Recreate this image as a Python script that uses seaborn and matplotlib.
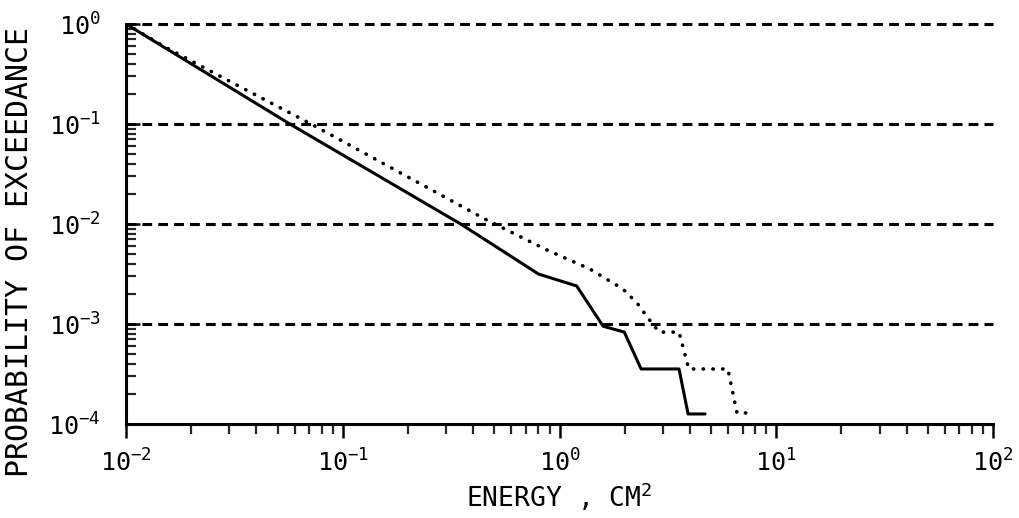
import numpy as np
import pandas as pd
import matplotlib
matplotlib.use("Agg")
import matplotlib.pyplot as plt
from matplotlib.ticker import FixedLocator, FuncFormatter, NullFormatter
import seaborn as sns

# Data
solid_x = [0.01, 0.057, 0.35, 0.80, 1.20, 1.59, 1.99, 2.38, 3.56, 3.92, 4.69]
solid_y = [1.0, 0.1, 0.01, 3.16e-3, 2.4e-3, 9.5e-4, 8.3e-4, 3.55e-4, 3.55e-4, 1.26e-4, 1.26e-4]

dot_x = [0.01, 0.01545, 0.0272, 0.0714, 0.453, 0.875, 1.38, 1.96, 2.28, 2.56, 2.88, 3.56, 3.95, 5.98, 6.59, 7.24]
dot_y = [1.0, 0.575, 0.30, 0.1, 0.0112, 5.5e-3, 3.55e-3, 2.24e-3, 1.62e-3, 1.15e-3, 8.3e-4, 8.3e-4, 3.55e-4, 3.55e-4, 1.29e-4, 1.29e-4]

x_decades = [1e-2, 1e-1, 1e0, 1e1, 1e2]
y_decades = [1e-4, 1e-3, 1e-2, 1e-1, 1e0]
grid_levels = [1e-3, 1e-2, 1e-1, 1e0]

sns.set_style("ticks")
plt.rcParams['font.family'] = ['DejaVu Sans Mono', 'DejaVu Sans']
plt.rcParams['mathtext.default'] = 'regular'
plt.rcParams['text.color'] = 'black'
plt.rcParams['axes.labelcolor'] = 'black'

fig = plt.figure(figsize=(10.19, 5.18), dpi=100)
ax = fig.add_axes([126/1019, 1 - 424/518, (993 - 126)/1019, (424 - 24)/518])

df_s = pd.DataFrame({"x": solid_x, "y": solid_y})
df_d = pd.DataFrame({"x": dot_x, "y": dot_y})

sns.lineplot(data=df_s, x="x", y="y", ax=ax, sort=False, estimator=None,
             color="black", lw=2.2)
sns.lineplot(data=df_d, x="x", y="y", ax=ax, sort=False, estimator=None,
             color="black", lw=2.6, linestyle=(0, (0.1, 2.6)),
             dash_capstyle="round")

ax.set_xscale("log")
ax.set_yscale("log")
ax.set_xlim(1e-2, 1e2)
ax.set_ylim(1e-4, 1e0)

for lvl in grid_levels:
    ax.axhline(lvl, color="black", lw=2.2, linestyle=(0, (3.2, 2.0)),
               zorder=1, clip_on=False)

fmt = FuncFormatter(lambda v, p: r'$\mathdefault{10^{%d}}$' % int(round(np.log10(v))))
ax.xaxis.set_major_locator(FixedLocator(x_decades))
ax.yaxis.set_major_locator(FixedLocator(y_decades))
ax.xaxis.set_major_formatter(fmt)
ax.yaxis.set_major_formatter(fmt)
ax.xaxis.set_minor_formatter(NullFormatter())
ax.yaxis.set_minor_formatter(NullFormatter())

sns.despine(ax=ax)
for s in ["left", "bottom"]:
    ax.spines[s].set_linewidth(2.2)
    ax.spines[s].set_color("black")

ax.tick_params(axis="x", which="major", direction="out", length=10, width=1.8,
               labelsize=18, pad=8, colors="black")
ax.tick_params(axis="x", which="minor", direction="out", length=7, width=1.6)
ax.tick_params(axis="y", which="major", direction="in", length=10, width=1.8,
               labelsize=18, pad=18, colors="black")
ax.tick_params(axis="y", which="minor", direction="in", length=7, width=1.6)

ax.set_xlabel(r"ENERGY , CM$^2$", fontsize=19, labelpad=3, color="black")
ax.set_ylabel("PROBABILITY OF EXCEEDANCE", fontsize=21.5, color="black")
ax.yaxis.set_label_coords((34 - 126) / 867, (424 - 252) / 400)

fig.savefig("out.png", dpi=100)
